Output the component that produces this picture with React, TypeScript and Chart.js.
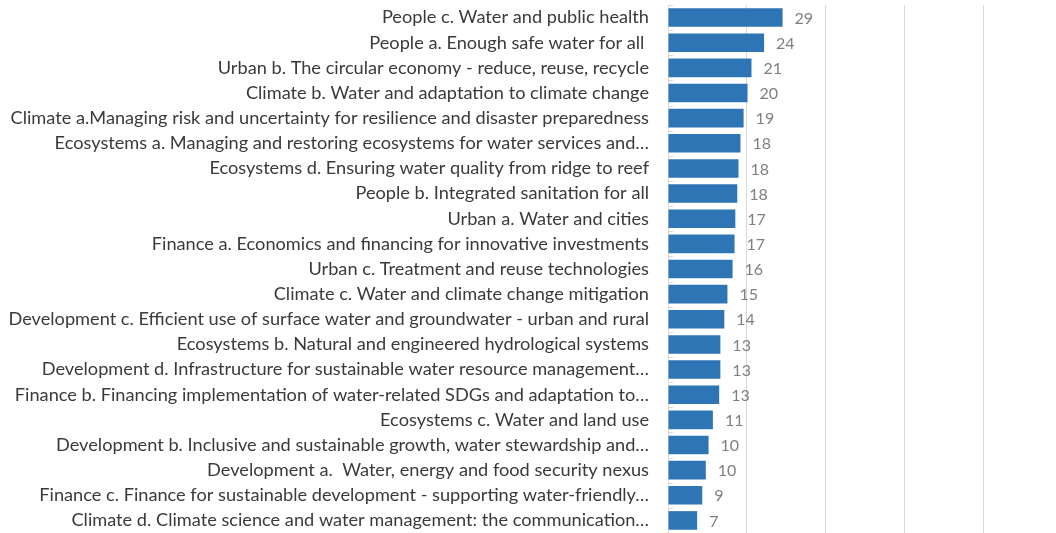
import React, { useEffect, useRef } from "react";
import { Chart, registerables } from "chart.js";

Chart.register(...registerables);

const categories: string[] = [
  "People c. Water and public health",
  "People a. Enough safe water for all ",
  "Urban b. The circular economy - reduce, reuse, recycle",
  "Climate b. Water and adaptation to climate change",
  "Climate a.Managing risk and uncertainty for resilience and disaster preparedness",
  "Ecosystems a. Managing and restoring ecosystems for water services and…",
  "Ecosystems d. Ensuring water quality from ridge to reef",
  "People b. Integrated sanitation for all",
  "Urban a. Water and cities",
  "Finance a. Economics and financing for innovative investments",
  "Urban c. Treatment and reuse technologies",
  "Climate c. Water and climate change mitigation",
  "Development c. Efficient use of surface water and groundwater - urban and rural",
  "Ecosystems b. Natural and engineered hydrological systems",
  "Development d. Infrastructure for sustainable water resource management…",
  "Finance b. Financing implementation of water-related SDGs and adaptation to…",
  "Ecosystems c. Water and land use",
  "Development b. Inclusive and sustainable growth, water stewardship and…",
  "Development a.  Water, energy and food security nexus",
  "Finance c. Finance for sustainable development - supporting water-friendly…",
  "Climate d. Climate science and water management: the communication…",
];

const values: number[] = [
  29.1, 24.4, 21.2, 20.2, 19.2, 18.4, 17.9, 17.6, 17.1, 16.9, 16.4, 15.1, 14.3,
  13.3, 13.3, 13.0, 11.4, 10.3, 9.6, 8.7, 7.4,
];

const axisMax = 80;
const gridStep = 20;

const FONT = "Lato, 'Open Sans', sans-serif";

const valueLabelPlugin = {
  id: "valueLabels",
  afterDatasetsDraw(chart: any) {
    const ctx = chart.ctx;
    const meta = chart.getDatasetMeta(0);
    ctx.save();
    ctx.font = `16px ${FONT}`;
    ctx.fillStyle = "#7f7f7f";
    ctx.textAlign = "left";
    ctx.textBaseline = "middle";
    meta.data.forEach((bar: any, i: number) => {
      const v = chart.data.datasets[0].data[i] as number;
      ctx.fillText(String(Math.round(v)), bar.x + 12, bar.y + 1);
    });
    ctx.restore();
  },
};

const innerTicksPlugin = {
  id: "innerTicks",
  afterDatasetsDraw(chart: any) {
    const ctx = chart.ctx;
    const y = chart.scales.y;
    const left = chart.chartArea.left;
    const n = chart.data.labels.length;
    ctx.save();
    ctx.strokeStyle = "#d9d9d9";
    ctx.lineWidth = 1;
    for (let i = 0; i <= n; i++) {
      const p = y.getPixelForValue(i - 0.5);
      ctx.beginPath();
      ctx.moveTo(left, Math.round(p) + 0.5);
      ctx.lineTo(left + 5, Math.round(p) + 0.5);
      ctx.stroke();
    }
    ctx.restore();
  },
};

export default function App() {
  const ref = useRef<HTMLCanvasElement | null>(null);

  useEffect(() => {
    document.body.style.margin = "0";
    const canvas = ref.current;
    if (!canvas) return;
    const chart = new Chart(canvas, {
      type: "bar",
      data: {
        labels: categories,
        datasets: [
          {
            data: values,
            backgroundColor: "#2E75B6",
            barPercentage: 0.74,
            categoryPercentage: 1,
          },
        ],
      },
      options: {
        indexAxis: "y",
        responsive: false,
        animation: false,
        devicePixelRatio: 1,
        layout: { padding: { left: 0, right: 73, top: 5, bottom: 0 } },
        plugins: {
          legend: { display: false },
          tooltip: { enabled: false },
        },
        scales: {
          x: {
            min: 0,
            max: axisMax,
            ticks: { display: false, stepSize: gridStep },
            grid: { color: "#d9d9d9", drawTicks: false },
            border: { display: false },
          },
          y: {
            ticks: {
              color: "#3a3a3a",
              font: { family: FONT, size: 18.2 },
              padding: 19,
              autoSkip: false,
            },
            grid: { display: false, drawTicks: false },
            border: { display: true, color: "#d9d9d9" },
            afterFit: (s: any) => {
              s.width = 668;
              s.paddingTop = 0;
              s.paddingBottom = 0;
            },
          },
        },
      },
      plugins: [valueLabelPlugin, innerTicksPlugin],
    } as any);
    return () => chart.destroy();
  }, []);

  return (
    <div style={{ width: 1056, height: 533, background: "#fff" }}>
      <canvas ref={ref} width={1056} height={533} style={{ display: "block" }} />
    </div>
  );
}
